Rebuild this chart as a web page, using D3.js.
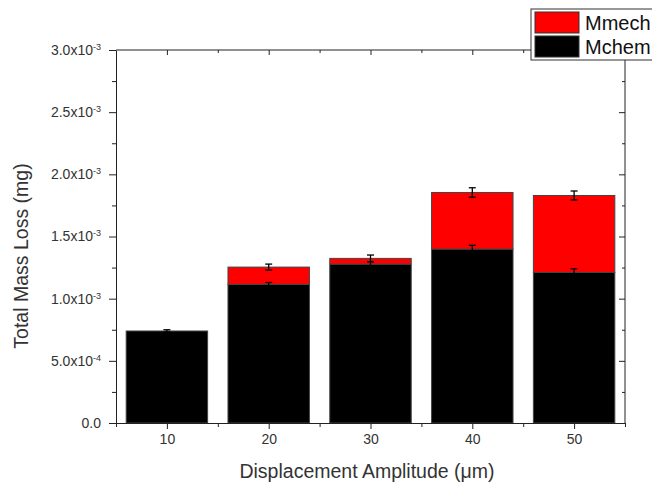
<!DOCTYPE html>
<html>
<head>
<meta charset="utf-8">
<script src="https://cdn.jsdelivr.net/npm/d3@7"></script>
<style>
  body { margin: 0; background: #fff; }
  svg { font-family: Arial, "Liberation Sans", sans-serif; }
</style>
</head>
<body>
<div id="chart"></div>
<script>
// Values (mg, x1e-3)
const amplitudes = [10, 20, 30, 40, 50];
const mchem = [0.74, 1.115, 1.278, 1.399, 1.211];
const mmech = [0, 0.139, 0.046, 0.455, 0.619];
const chemErr = [0.01, 0.015, 0.02, 0.03, 0.029];
const totalErr = [0, 0.024, 0.027, 0.038, 0.036];
const yTicks = [0, 0.5, 1.0, 1.5, 2.0, 2.5, 3.0];
const yTickLabels = ['0.0', '5.0x10|-4', '1.0x10|-3', '1.5x10|-3', '2.0x10|-3', '2.5x10|-3', '3.0x10|-3'];
const seriesNames = ['Mmech', 'Mchem'];
const seriesColors = ['#ff0000', '#000000'];

const W = 652, H = 490;
const margin = { top: 50, right: 27, bottom: 67, left: 116 }; // plot box 116..625 x 50..423
const width = W - margin.left - margin.right,
      height = H - margin.top - margin.bottom;

const svg = d3.select('#chart').append('svg')
    .attr('width', W)
    .attr('height', H);

const g = svg.append('g')
    .attr('transform', `translate(${margin.left},${margin.top})`);

const x = d3.scaleLinear().domain([5, 55]).range([0, width]);
const y = d3.scaleLinear().domain([0, 3.0]).range([height, 0]);
const barW = x(14) - x(6);

const rows = amplitudes.map((a, i) => ({ amp: a, chem: mchem[i], mech: mmech[i], total: mchem[i] + mmech[i] }));

// Bars: chem at the bottom, mech stacked on top
const stackG = g.append('g');
rows.forEach(d => {
    stackG.append('rect')
        .attr('x', x(d.amp) - barW / 2)
        .attr('y', y(d.chem))
        .attr('width', barW)
        .attr('height', y(0) - y(d.chem))
        .attr('fill', seriesColors[1])
        .attr('stroke', '#444')
        .attr('stroke-width', 1);
    if (d.mech > 0) {
        stackG.append('rect')
            .attr('x', x(d.amp) - barW / 2)
            .attr('y', y(d.total))
            .attr('width', barW)
            .attr('height', y(d.chem) - y(d.total))
            .attr('fill', seriesColors[0])
            .attr('stroke', '#444')
            .attr('stroke-width', 1);
    }
});

// Error bars
function errorBar(cx, v, e) {
    if (e <= 0) return;
    const eg = g.append('g').attr('stroke', '#000').attr('stroke-width', 1.3);
    eg.append('line').attr('x1', cx).attr('x2', cx).attr('y1', y(v + e)).attr('y2', y(v - e));
    eg.append('line').attr('x1', cx - 3.5).attr('x2', cx + 3.5).attr('y1', y(v + e)).attr('y2', y(v + e));
    eg.append('line').attr('x1', cx - 3.5).attr('x2', cx + 3.5).attr('y1', y(v - e)).attr('y2', y(v - e));
}
rows.forEach((d, i) => {
    errorBar(x(d.amp), d.chem, chemErr[i]);
    if (d.mech > 0) errorBar(x(d.amp), d.total, totalErr[i]);
});

// Frame lines
const axisColor = '#222';
g.append('line').attr('x1', 0).attr('x2', width).attr('y1', 0).attr('y2', 0).attr('stroke', axisColor);
g.append('line').attr('x1', width).attr('x2', width).attr('y1', 0).attr('y2', height).attr('stroke', axisColor);

// Bottom axis, major + minor ticks outward
const xAxis = g.append('g')
    .attr('transform', `translate(0,${height})`)
    .call(d3.axisBottom(x).tickValues(amplitudes).tickSize(6).tickSizeOuter(0).tickPadding(5).tickFormat(d3.format('d')));
g.append('g')
    .attr('transform', `translate(0,${height})`)
    .call(d3.axisBottom(x).tickValues([5, 15, 25, 35, 45, 55]).tickSize(4).tickFormat(''))
    .select('.domain').remove();

// Left axis, major + minor ticks outward
g.append('g')
    .call(d3.axisLeft(y).tickValues(yTicks).tickSize(7).tickSizeOuter(0).tickFormat(''));
g.append('g')
    .call(d3.axisLeft(y).tickValues([0.25, 0.75, 1.25, 1.75, 2.25, 2.75]).tickSize(4).tickFormat(''))
    .select('.domain').remove();

// Top axis, ticks inward
g.append('g')
    .call(d3.axisBottom(x).tickValues(amplitudes).tickSize(5).tickFormat(''))
    .select('.domain').remove();
g.append('g')
    .call(d3.axisBottom(x).tickValues([15, 25, 35, 45]).tickSize(3).tickFormat(''))
    .select('.domain').remove();

// Right axis, ticks inward
g.append('g')
    .attr('transform', `translate(${width},0)`)
    .call(d3.axisLeft(y).tickValues(yTicks.slice(1)).tickSize(6).tickFormat(''))
    .select('.domain').remove();
g.append('g')
    .attr('transform', `translate(${width},0)`)
    .call(d3.axisLeft(y).tickValues([0.25, 0.75, 1.25, 1.75, 2.25, 2.75]).tickSize(3).tickFormat(''))
    .select('.domain').remove();

g.selectAll('.domain, .tick line').attr('stroke', axisColor);

xAxis.selectAll('text')
    .style('font-size', '14px')
    .attr('fill', '#333');

// Y tick labels with superscript exponents
yTicks.forEach((t, i) => {
    const parts = yTickLabels[i].split('|');
    const txt = g.append('text')
        .attr('x', -15)
        .attr('y', y(t))
        .attr('dy', '0.35em')
        .attr('text-anchor', 'end')
        .attr('fill', '#333')
        .style('font-size', '14px');
    txt.append('tspan').text(parts[0]);
    if (parts[1]) {
        txt.append('tspan')
            .attr('dy', '-0.55em')
            .style('font-size', '9px')
            .text(parts[1]);
    }
});

// Axis titles
svg.append('text')
    .attr('transform', `translate(28,256) rotate(-90)`)
    .attr('text-anchor', 'middle')
    .attr('fill', '#333')
    .style('font-size', '19.5px')
    .text('Total Mass Loss (mg)');

svg.append('text')
    .attr('x', 367)
    .attr('y', 478)
    .attr('text-anchor', 'middle')
    .attr('fill', '#333')
    .style('font-size', '19.5px')
    .text('Displacement Amplitude (\u03bcm)');

// Legend
const legend = svg.append('g').attr('transform', 'translate(531,9)');
legend.append('rect')
    .attr('x', 0).attr('y', 0)
    .attr('width', 130).attr('height', 51)
    .attr('fill', '#fff')
    .attr('stroke', '#333')
    .attr('stroke-width', 1);
seriesNames.forEach((name, i) => {
    legend.append('rect')
        .attr('x', 4).attr('y', 3 + i * 24)
        .attr('width', 44).attr('height', 21)
        .attr('fill', seriesColors[i])
        .attr('stroke', '#333')
        .attr('stroke-width', 1);
    legend.append('text')
        .attr('x', 54).attr('y', 13.5 + i * 24)
        .attr('dy', '0.35em')
        .attr('fill', '#111')
        .style('font-size', '20px')
        .text(name);
});
</script>
</body>
</html>
